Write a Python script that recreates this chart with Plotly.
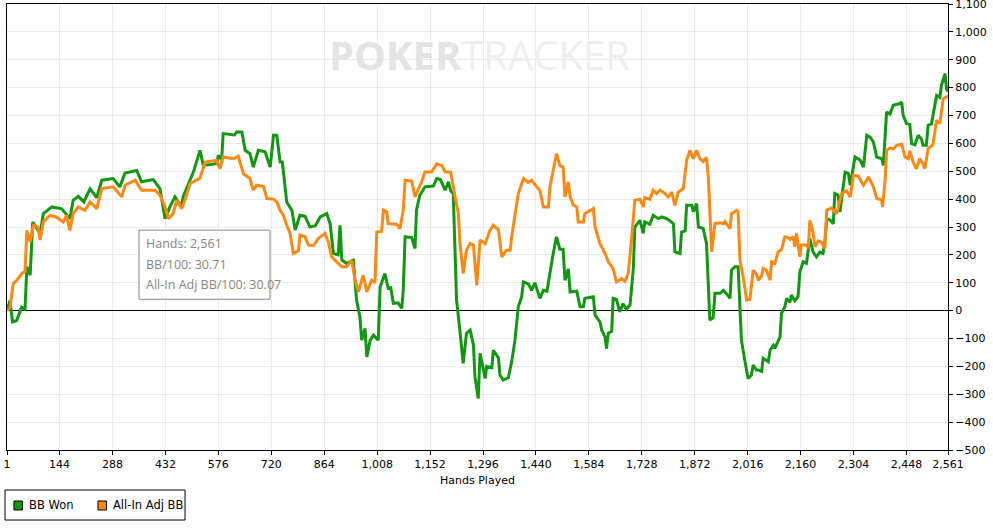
import plotly.graph_objects as go

# BB Won (green) - cumulative big blinds by hand number
won_hands = [1, 9, 16, 27, 41, 50, 55, 64, 71, 91, 100, 123, 150, 172, 181, 195, 210, 227, 245, 259,
             290, 308, 322, 354, 367, 399, 417, 431, 444, 458, 476, 480, 508, 526, 535, 571, 576, 585, 589, 620,
             626, 640, 649, 662, 671, 685, 703, 717, 726, 735, 744, 750, 762, 776, 785, 798, 812, 825, 840, 853,
             871, 880, 889, 902, 907, 912, 925, 943, 952, 961, 966, 975, 980, 989, 998, 1011, 1016, 1029, 1038, 1045,
             1052, 1065, 1075, 1079, 1084, 1102, 1111, 1115, 1124, 1138, 1161, 1170, 1180, 1193, 1202, 1208, 1215, 1224, 1233, 1242,
             1251, 1261, 1270, 1274, 1283, 1288, 1302, 1306, 1320, 1324, 1338, 1342, 1351, 1365, 1374, 1383, 1392, 1401, 1406, 1420,
             1428, 1437, 1451, 1460, 1470, 1478, 1487, 1496, 1505, 1514, 1519, 1528, 1533, 1551, 1560, 1569, 1573, 1596, 1601, 1614,
             1619, 1628, 1632, 1637, 1646, 1650, 1659, 1668, 1677, 1686, 1696, 1705, 1709, 1723, 1732, 1736, 1750, 1759, 1773, 1782,
             1796, 1814, 1818, 1832, 1836, 1846, 1850, 1864, 1868, 1877, 1882, 1895, 1904, 1909, 1913, 1922, 1927, 1941, 1950, 1960,
             1968, 1972, 1981, 1990, 1995, 1999, 2008, 2017, 2026, 2031, 2040, 2045, 2054, 2058, 2072, 2077, 2086, 2090, 2104, 2108,
             2117, 2122, 2131, 2135, 2144, 2149, 2153, 2158, 2167, 2176, 2181, 2185, 2194, 2203, 2212, 2221, 2226, 2231, 2240, 2249,
             2253, 2262, 2267, 2276, 2281, 2290, 2295, 2308, 2322, 2331, 2340, 2349, 2358, 2367, 2381, 2385, 2390, 2394, 2403, 2412,
             2430, 2435, 2439, 2448, 2457, 2462, 2471, 2480, 2489, 2493, 2502, 2507, 2516, 2530, 2539, 2543, 2553, 2557, 2561]
won_bb = [0, 36, -40, -36, 12, 5, 157, 127, 318, 277, 348, 372, 365, 330, 396, 410, 390, 437, 405, 468,
          474, 444, 494, 503, 462, 470, 438, 330, 372, 408, 372, 408, 497, 575, 521, 527, 557, 541, 635, 630,
          641, 641, 575, 563, 515, 575, 570, 515, 629, 629, 533, 533, 390, 360, 289, 342, 338, 300, 305, 336,
          348, 312, 205, 200, 306, 181, 169, 181, 38, -22, -106, -64, -166, -106, -88, -106, 85, 133, 80, 82,
          26, 28, 8, 73, 265, 262, 223, 360, 414, 444, 447, 474, 470, 432, 462, 430, 420, 38, -70, -189,
          -82, -70, -124, -237, -315, -153, -243, -200, -205, -142, -170, -231, -249, -240, -183, -106, 14, 49, 103, 95,
          73, 100, 44, 73, 70, 139, 205, 265, 220, 220, 109, 150, 67, 70, 14, 14, 44, 50, -16, -40,
          -70, -94, -136, -80, -75, 44, 40, -4, 25, 5, 20, 151, 300, 324, 277, 318, 310, 342, 330, 336,
          330, 312, 211, 205, 282, 286, 378, 378, 355, 384, 300, 295, 241, 91, -34, -25, 62, 62, 73, 58,
          44, 145, 157, 157, -22, -106, -177, -243, -232, -195, -213, -213, -218, -171, -183, -142, -125, -135, -94, -10,
          14, 44, 30, 56, 35, 44, 50, 139, 175, 170, 217, 259, 210, 193, 210, 205, 247, 330, 325, 312,
          420, 415, 354, 438, 497, 492, 450, 551, 540, 515, 629, 622, 605, 551, 545, 521, 617, 713, 705, 737,
          743, 748, 701, 671, 668, 599, 595, 629, 615, 593, 593, 665, 670, 772, 765, 808, 850, 796, 786]

# All-In Adj BB (orange)
adj_hands = [1, 9, 18, 27, 41, 50, 55, 64, 73, 86, 91, 100, 118, 136, 154, 163, 172, 181, 195, 213,
             227, 245, 259, 290, 313, 322, 350, 367, 404, 417, 431, 440, 453, 463, 476, 485, 499, 517, 526, 540,
             571, 580, 589, 617, 630, 644, 662, 671, 680, 699, 708, 726, 735, 744, 753, 762, 771, 780, 794, 798,
             812, 821, 835, 848, 866, 875, 884, 898, 912, 925, 939, 948, 957, 970, 980, 993, 1002, 1007, 1020, 1025,
             1034, 1038, 1061, 1070, 1079, 1084, 1102, 1111, 1129, 1138, 1156, 1170, 1184, 1193, 1208, 1215, 1229, 1233, 1242, 1251,
             1261, 1270, 1279, 1288, 1302, 1315, 1324, 1338, 1347, 1360, 1370, 1374, 1383, 1392, 1406, 1419, 1428, 1442, 1451, 1460,
             1474, 1478, 1487, 1496, 1505, 1514, 1519, 1528, 1533, 1542, 1551, 1555, 1569, 1573, 1596, 1601, 1614, 1628, 1637, 1650,
             1659, 1673, 1682, 1691, 1700, 1709, 1723, 1732, 1736, 1750, 1759, 1768, 1778, 1791, 1800, 1809, 1818, 1827, 1841, 1850,
             1859, 1868, 1877, 1886, 1895, 1904, 1909, 1913, 1918, 1927, 1941, 1950, 1954, 1959, 1968, 1972, 1986, 1990, 1995, 2004,
             2013, 2022, 2031, 2040, 2045, 2054, 2058, 2067, 2077, 2081, 2090, 2099, 2108, 2117, 2126, 2131, 2140, 2144, 2149, 2158,
             2162, 2176, 2181, 2185, 2194, 2199, 2208, 2217, 2226, 2231, 2244, 2258, 2272, 2285, 2295, 2304, 2317, 2331, 2345, 2358,
             2367, 2380, 2383, 2390, 2394, 2403, 2412, 2421, 2435, 2444, 2453, 2457, 2466, 2475, 2484, 2493, 2498, 2507, 2520, 2530,
             2539, 2548, 2557, 2561]
adj_bb = [0, 10, 97, 108, 133, 140, 288, 247, 306, 300, 253, 318, 342, 335, 318, 342, 288, 348, 372, 360,
          390, 366, 438, 444, 408, 450, 468, 432, 432, 414, 372, 330, 348, 396, 366, 396, 456, 468, 475, 533,
          539, 509, 551, 545, 554, 492, 474, 432, 450, 445, 402, 400, 390, 360, 342, 306, 277, 205, 215, 271,
          265, 235, 233, 259, 277, 247, 193, 175, 157, 157, 181, 109, 67, 127, 67, 109, 100, 282, 284, 360,
          355, 312, 310, 294, 360, 468, 465, 408, 462, 497, 497, 527, 520, 497, 497, 444, 348, 247, 133, 217,
          241, 235, 91, 253, 240, 288, 306, 290, 193, 217, 217, 265, 336, 420, 474, 460, 468, 444, 430, 372,
          372, 444, 503, 563, 521, 515, 408, 462, 408, 378, 372, 318, 318, 348, 366, 300, 241, 205, 175, 151,
          103, 115, 105, 133, 253, 396, 400, 372, 405, 400, 432, 420, 432, 420, 408, 425, 378, 425, 438, 539,
          575, 545, 575, 545, 535, 550, 480, 336, 211, 312, 315, 312, 320, 310, 294, 348, 360, 355, 181, 121,
          38, 40, 145, 130, 109, 125, 151, 145, 109, 175, 170, 211, 218, 265, 262, 255, 265, 229, 277, 193,
          235, 235, 224, 324, 280, 229, 250, 245, 223, 360, 368, 348, 420, 430, 408, 486, 483, 450, 480, 444,
          402, 398, 372, 468, 575, 583, 580, 593, 597, 551, 545, 573, 533, 509, 545, 527, 509, 581, 595, 683,
          672, 760, 766, 770]

x_ticks = [1, 144, 288, 432, 576, 720, 864, 1008, 1152, 1296, 1440, 1584, 1728, 1872, 2016, 2160, 2304, 2448, 2561]

summary_lines = ["Hands: 2,561", "BB/100: 30.71", "All-In Adj BB/100: 30.07"]
series_names = ["BB Won", "All-In Adj BB"]

GREEN = "#109910"
ORANGE = "#ff8812"
GRID = "#ebebeb"

fig = go.Figure()

fig.add_trace(go.Scatter(x=won_hands, y=won_bb, mode="lines", name=series_names[0],
                         line=dict(color=GREEN, width=3), showlegend=False, hoverinfo="skip"))
fig.add_trace(go.Scatter(x=adj_hands, y=adj_bb, mode="lines", name=series_names[1],
                         line=dict(color=ORANGE, width=3), showlegend=False, hoverinfo="skip"))

fig.update_layout(
    width=993, height=529,
    margin=dict(l=7, r=45, t=4, b=79, autoexpand=False),
    paper_bgcolor="white", plot_bgcolor="white",
    font=dict(family="DejaVu Sans", size=11, color="black"),
    showlegend=False,
    xaxis=dict(range=[1, 2561], tickvals=x_ticks, tickformat=",", showgrid=True, gridcolor=GRID,
               zeroline=False, showline=True, linecolor="black", linewidth=1, mirror=True,
               ticks="outside", ticklen=4, tickcolor="black",
               title=dict(text="Hands Played", font=dict(size=11), standoff=6)),
    yaxis=dict(range=[-500, 1100], dtick=100, tickformat=",", side="right", showgrid=True, gridcolor=GRID,
               zeroline=True, zerolinecolor="black", zerolinewidth=1,
               showline=True, linecolor="black", linewidth=1, mirror=True,
               ticks="outside", ticklen=4, tickcolor="black", ticklabeloverflow="allow"),
)

# watermark
fig.add_annotation(xref="paper", yref="paper", x=0.5016, y=0.886, xanchor="center", yanchor="middle",
                   text="<b><span style='color:#e4e4e4'>POKER</span></b>TRACKER", showarrow=False,
                   font=dict(family="Open Sans", size=40, color="#efefef"))

# summary box
fig.add_shape(type="rect", xref="paper", yref="paper", x0=0.1403, x1=0.2795, y0=0.338, y1=0.493,
              line=dict(color="#888888", width=1), fillcolor="white", layer="above")
for i, line in enumerate(summary_lines):
    fig.add_annotation(xref="paper", yref="paper", x=0.1455, y=0.463 - i * 0.046,
                       xanchor="left", yanchor="middle", text=line, showarrow=False,
                       font=dict(family="Open Sans", size=12.5, color="#8a8580"))

# legend box, drawn by hand to get the compact square swatches
fig.add_shape(type="rect", xref="paper", yref="paper", x0=-0.0021, x1=0.1892, y0=-0.157, y1=-0.0897,
              line=dict(color="black", width=1), fillcolor="white")
for name, color, sx, tx in [(series_names[0], GREEN, 0.0074, 0.0213), (series_names[1], ORANGE, 0.0967, 0.1105)]:
    fig.add_shape(type="rect", xref="paper", yref="paper", x0=sx, x1=sx + 0.0090, y0=-0.1345, y1=-0.1143,
                  line=dict(color="black", width=1), fillcolor=color)
    fig.add_annotation(xref="paper", yref="paper", x=tx, y=-0.1244, xanchor="left", yanchor="middle",
                       text=name, showarrow=False, font=dict(family="DejaVu Sans", size=11.5, color="black"))

fig.write_html("out.html", config={"displayModeBar": False},
               post_script="document.body.style.margin='0';")
